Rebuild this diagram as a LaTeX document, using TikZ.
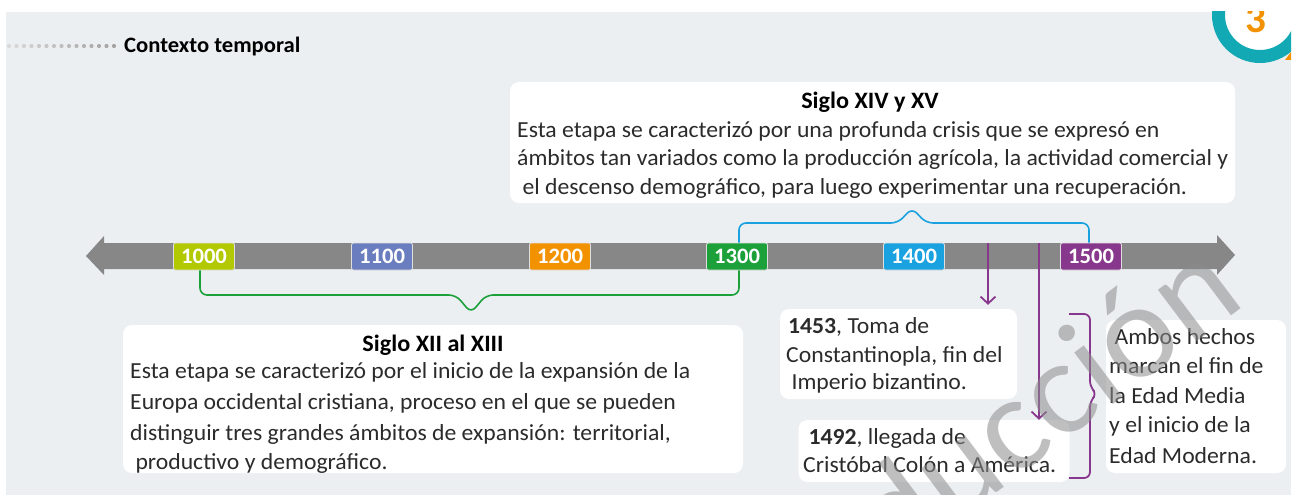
\documentclass[tikz,border=0pt]{standalone}
\usepackage{fontspec}
\setmainfont{Carlito}[FakeStretch=1.03]
\usetikzlibrary{arrows.meta,calc}
\definecolor{bg}{HTML}{ECEFF2}
\definecolor{bargray}{HTML}{878787}
\definecolor{c1000}{HTML}{B2C800}
\definecolor{c1100}{HTML}{6A7DBE}
\definecolor{c1200}{HTML}{F39200}
\definecolor{c1300}{HTML}{1BA03A}
\definecolor{c1400}{HTML}{19A2DF}
\definecolor{c1500}{HTML}{88388C}
\definecolor{ringteal}{HTML}{12A9B5}
\definecolor{txt}{HTML}{2B2B2B}
\tikzset{
  yearbox/.style={draw=white!75!gray, line width=0.8pt, rounded corners=2pt, minimum width=61pt, minimum height=27pt, inner sep=0pt, text=white, font=\fontsize{22}{22}\selectfont\bfseries},
  infobox/.style={fill=white, rounded corners=9pt, inner sep=0pt},
  line/.style={anchor=base west, inner sep=0pt, text=txt, font=\fontsize{23}{23}\selectfont},
  ttl/.style={anchor=base, inner sep=0pt, text=black, font=\fontsize{23.5}{23.5}\selectfont\bfseries},
  bracket/.style={line width=1.6pt, rounded corners=7pt},
  parrow/.style={c1500, line width=2.2pt, -{Straight Barb[length=7pt,width=15pt,line width=1.8pt]}},
  wmark/.style={anchor=base east, inner sep=0pt, rotate=37, text=black!45, opacity=0.55, font=\fontsize{135}{135}\selectfont}
}
\begin{document}
\begin{tikzpicture}[x=1pt,y=-1pt]
\useasboundingbox (0,0) rectangle (1298,495);
\fill[white] (0,0) rectangle (1298,495);
\fill[bg] (6,12) rectangle (1291,495);
% badge
\begin{scope}
\clip (6,12) rectangle (1291,495);
\draw[ringteal, line width=13pt, fill=white] (1260,15) circle (41.5);
\node[anchor=base, inner sep=0pt, text=c1200, font=\fontsize{40}{40}\selectfont\bfseries] (badge) at (1256,33) {3};
\end{scope}
\fill[c1200] (1285,60) -- (1291,52) -- (1291,60) -- cycle;
% title
\foreach \i in {0,...,14} {
  \pgfmathsetmacro{\shade}{30+3*\i}
  \fill[gray!\shade] (9+7.5*\i,46) circle (2.1);
}
\node[anchor=west, inner sep=0pt, text=black, font=\fontsize{22}{22}\selectfont\bfseries] (title) at (124,47) {Contexto temporal};
% timeline bar
\fill[bargray] (86,256) -- (104,236) -- (104,243) -- (1217,243) -- (1217,235) -- (1235,255) -- (1217,275) -- (1217,269) -- (104,269) -- (104,275) -- cycle;
\node[yearbox, fill=c1000] (y1000) at (204,256.5) {1000};
\node[yearbox, fill=c1100] (y1100) at (382,256.5) {1100};
\node[yearbox, fill=c1200] (y1200) at (560,256.5) {1200};
\node[yearbox, fill=c1300] (y1300) at (737,256.5) {1300};
\node[yearbox, fill=c1400] (y1400) at (914,256.5) {1400};
\node[yearbox, fill=c1500] (y1500) at (1091,256.5) {1500};
% top box
\node[infobox, minimum width=725pt, minimum height=121pt] (top) at (872.5,142.5) {};
\node[ttl] (topt) at (870,108) {Siglo XIV y XV};
\node[line] (t1) at (517,137) {Esta etapa se caracterizó por una profunda crisis que se expresó en};
\node[line] (t2) at (517,165) {ámbitos tan variados como la producción agrícola, la actividad comercial y};
\node[line] (t3) at (517,194) {\ el descenso demográfico, para luego experimentar una recuperación.};
% blue bracket
\draw[bracket, c1400] ($(y1300.north)+(2,0)$) -- (739,223) -- (898,223) -- (912,208) -- (926,223) -- (1089,223) -- ($(y1500.north)+(-2,0)$);
% green bracket
\draw[bracket, c1300] ($(y1000.south)+(-4,0)$) -- (200,295) -- (456,295) -- (471,313) -- (486,295) -- (739,295) -- ($(y1300.south)+(2,0)$);
% bottom-left box
\node[infobox, minimum width=620pt, minimum height=148pt] (bl) at (433,399) {};
\node[ttl] (blt) at (433,351) {Siglo XII al XIII};
\node[line] (b1) at (130,378) {Esta etapa se caracterizó por el inicio de la expansión de la};
\node[line] (b2) at (130,409) {Europa occidental cristiana, proceso en el que se pueden};
\node[line] (b3) at (130,440) {distinguir tres grandes ámbitos de expansión: territorial,};
\node[line] (b4) at (130,469) {\ productivo y demográfico.};
% 1453 box
\node[infobox, minimum width=237pt, minimum height=90pt] (b1453) at (898.5,354) {};
\node[line] (e1) at (788,333) {\textbf{1453}, Toma de};
\node[line] (e2) at (786,362) {Constantinopla, fin del};
\node[line] (e3) at (786,389) {\ Imperio bizantino.};
% 1492 box
\node[infobox, minimum width=271pt, minimum height=62pt] (b1492) at (934,451) {};
\node[line] (f1) at (803,444) {\ \textbf{1492}, llegada de};
\node[line] (f2) at (803,472) {Cristóbal Colón a América.};
% Ambos box
\node[infobox, minimum width=180pt, minimum height=153pt] (amb) at (1196,396.5) {};
\node[line] (g1) at (1109,344) {\ Ambos hechos};
\node[line] (g2) at (1109,373) {marcan el fin de};
\node[line] (g3) at (1109,403) {la Edad Media};
\node[line] (g4) at (1109,432) {y el inicio de la};
\node[line] (g5) at (1109,463) {Edad Moderna.};
% purple arrows
\coordinate (a1) at (988,243);
\coordinate (a2) at (1039,243);
\draw[parrow] (a1) -- ($(a1 |- b1453.north)+(0,-4)$);
\draw[parrow] (a2) -- (a2 |- b1492.north);
% purple brace
\draw[c1500, line width=1.8pt, rounded corners=6pt] (1069,314) -- (1090,314) -- (1090,387) -- (1097,394) -- (1090,401) -- (1090,478) -- (1069,478);
% watermark
\begin{scope}
\clip (6,12) rectangle (1291,495);
\node[wmark] (wm) at (1248,303) {ducción};
\end{scope}
\end{tikzpicture}
\end{document}
